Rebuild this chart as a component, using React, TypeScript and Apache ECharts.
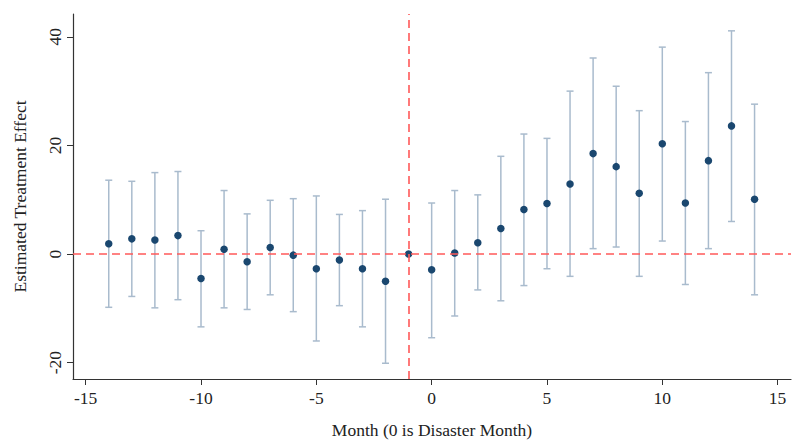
import React, { useEffect, useRef } from "react";
import * as echarts from "echarts";

const months = [-14, -13, -12, -11, -10, -9, -8, -7, -6, -5, -4, -3, -2, -1, 0, 1, 2, 3, 4, 5, 6, 7, 8, 9, 10, 11, 12, 13, 14];
const estimates = [1.9, 2.8, 2.6, 3.4, -4.5, 0.9, -1.4, 1.2, -0.2, -2.7, -1.1, -2.7, -5.0, 0, -2.9, 0.2, 2.1, 4.7, 8.2, 9.3, 12.9, 18.5, 16.1, 11.2, 20.3, 9.4, 17.2, 23.6, 10.1];
const ciUpper = [13.6, 13.4, 15.0, 15.2, 4.3, 11.7, 7.4, 9.9, 10.2, 10.7, 7.3, 8.0, 10.1, null, 9.4, 11.7, 10.9, 18.0, 22.1, 21.3, 30.0, 36.1, 30.9, 26.4, 38.1, 24.4, 33.4, 41.1, 27.6];
const ciLower = [-9.8, -7.8, -9.9, -8.4, -13.4, -9.9, -10.2, -7.5, -10.6, -16.0, -9.5, -13.4, -20.1, null, -15.4, -11.4, -6.6, -8.6, -5.8, -2.7, -4.1, 1.0, 1.3, -4.1, 2.4, -5.6, 1.0, 6.0, -7.5];
const xTicks = [-15, -10, -5, 0, 5, 10, 15];
const yTicks = [-20, 0, 20, 40];
const eventLineX = -1;
const zeroLineY = 0;

export default function App() {
  const ref = useRef<HTMLDivElement>(null);
  useEffect(() => {
    document.body.style.margin = "0";
    if (!ref.current) return;
    const chart = echarts.init(ref.current, null, { renderer: "svg" });
    const font = "'Liberation Serif', 'Times New Roman', serif";
    const fs = 17.5;
    const ciData = months
      .map((m, i) => [m, ciLower[i], ciUpper[i]])
      .filter((d) => d[1] !== null && d[2] !== null);
    const ciColor = "#a9bbcd";
    const redColor = "#ff5959";
    chart.setOption({
      animation: false,
      backgroundColor: "#ffffff",
      grid: { left: 73, right: 2, top: 14, bottom: 61, containLabel: false, outerBoundsMode: "none" },
      xAxis: {
        type: "value",
        min: -15.55,
        max: 15.58,
        name: "Month (0 is Disaster Month)",
        nameLocation: "middle",
        nameGap: 42,
        nameTextStyle: { fontFamily: font, fontSize: fs, color: "#222" },
        splitLine: { show: false },
        axisLine: { show: true, onZero: false, lineStyle: { color: "#333", width: 1.2 } },
        axisTick: { show: true, length: 6, customValues: xTicks, lineStyle: { color: "#333" } },
        axisLabel: { customValues: xTicks, margin: 10, fontFamily: font, fontSize: fs, color: "#222" },
      },
      yAxis: {
        type: "value",
        min: -23,
        max: 44.2,
        name: "Estimated Treatment Effect",
        nameLocation: "middle",
        nameRotate: 90,
        nameGap: 44,
        nameTextStyle: { fontFamily: font, fontSize: fs, color: "#222" },
        splitLine: { show: false },
        axisLine: { show: true, onZero: false, lineStyle: { color: "#333", width: 1.2 } },
        axisTick: { show: true, length: 6, customValues: yTicks, lineStyle: { color: "#333" } },
        axisLabel: { customValues: yTicks, rotate: 90, margin: 9, fontFamily: font, fontSize: fs, color: "#222" },
      },
      series: [
        {
          type: "custom",
          z: 1,
          data: ciData,
          encode: { x: 0, y: [1, 2] },
          renderItem: (params: any, api: any) => {
            const x = api.value(0);
            const lo = api.coord([x, api.value(1)]);
            const hi = api.coord([x, api.value(2)]);
            const hw = 3.5;
            const style = { stroke: ciColor, lineWidth: 1.5, fill: "none" };
            return {
              type: "group",
              children: [
                { type: "line", shape: { x1: lo[0], y1: lo[1], x2: hi[0], y2: hi[1] }, style },
                { type: "line", shape: { x1: lo[0] - hw, y1: lo[1], x2: lo[0] + hw, y2: lo[1] }, style },
                { type: "line", shape: { x1: hi[0] - hw, y1: hi[1], x2: hi[0] + hw, y2: hi[1] }, style },
              ],
            };
          },
        },
        {
          type: "line",
          z: 2,
          data: [],
          markLine: {
            silent: true,
            symbol: "none",
            label: { show: false },
            lineStyle: { color: redColor, type: [8, 5], width: 1.6 },
            data: [{ xAxis: eventLineX }, { yAxis: zeroLineY }],
          },
        },
        {
          type: "scatter",
          z: 3,
          symbol: "circle",
          symbolSize: 7.5,
          itemStyle: { color: "#1a476f", opacity: 1 },
          data: months.map((m, i) => [m, estimates[i]]),
        },
      ],
    });
    return () => chart.dispose();
  }, []);
  return <div ref={ref} style={{ width: 793, height: 440 }} />;
}
